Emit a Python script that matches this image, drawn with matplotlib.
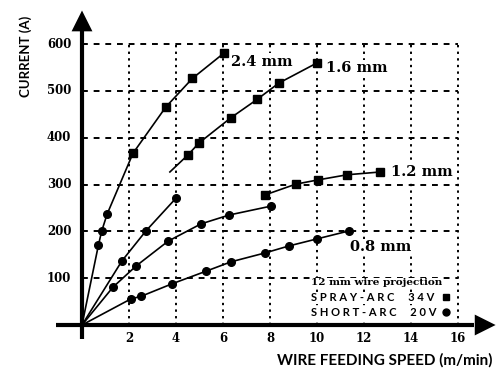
import matplotlib
matplotlib.use("Agg")
import matplotlib.pyplot as plt

plt.rcParams['font.family'] = ['Lato', 'DejaVu Sans']

# ---- data (x: m/min, y: A) ----
x_ticks = [2, 4, 6, 8, 10, 12, 14, 16]
y_ticks = [100, 200, 300, 400, 500, 600]

# 2.4 mm: one curve, short-arc dots then spray-arc squares
d24_short_x = [0.70, 0.84, 1.07]
d24_short_y = [171, 201, 237]
d24_spray_x = [2.17, 3.57, 4.70, 6.04]
d24_spray_y = [367, 466, 527, 581]

# 1.6 mm
d16_short_x = [1.70, 2.72, 4.00]
d16_short_y = [137, 201, 271]
d16_spray_start = (3.74, 327)
d16_spray_x = [4.50, 4.98, 6.34, 7.45, 8.38, 10.0]
d16_spray_y = [363, 389, 443, 482, 517, 560]

# 1.2 mm
d12_short_x = [1.32, 2.30, 3.66, 5.06, 6.26, 8.04]
d12_short_y = [81, 126, 179, 216, 235, 254]
d12_spray_x = [7.79, 9.10, 10.04, 11.28, 12.70]
d12_spray_y = [278, 301, 310, 321, 327]

# 0.8 mm
d08_short_x = [2.09, 2.50, 3.83, 5.28, 6.34, 7.79, 8.81, 10.0, 11.36]
d08_short_y = [56, 61, 88, 115, 135, 154, 169, 184, 201]

labels = ["2.4 mm", "1.6 mm", "1.2 mm", "0.8 mm"]
label_pos = [(6.35, 563), (10.4, 549), (13.15, 327), (11.4, 166)]

fig = plt.figure(figsize=(4.97, 3.70), dpi=100)
ax = fig.add_axes([0, 0, 1, 1])
ax.set_xlim(-82 / 23.5, (497 - 82) / 23.5)
ax.set_ylim(-(370 - 325) / 0.468, 325 / 0.468)
ax.axis("off")

# grid
for y in y_ticks:
    ax.plot([0, 16], [y, y], color="black", lw=1.4, ls=(0, (3, 3)), zorder=1)
for x in x_ticks:
    ax.plot([x, x], [0, 600], color="black", lw=1.4, ls=(0, (1.2, 2.2)), zorder=1)

# axes with arrows
ax.plot([0, 0], [-30, 630], color="black", lw=3, solid_capstyle="butt", zorder=3)
ax.plot([-1.1, 16.7], [0, 0], color="black", lw=3, solid_capstyle="butt", zorder=3)
arrow = dict(arrowstyle="-|>,head_length=1.0,head_width=0.5", mutation_scale=15,
             color="black", lw=0, shrinkA=0, shrinkB=0)
ax.annotate("", xy=(0, 672), xytext=(0, 620), arrowprops=arrow, zorder=4)
ax.annotate("", xy=(17.6, 0), xytext=(16.5, 0), arrowprops=arrow, zorder=4)

for y in y_ticks:
    ax.text(-0.45, y, str(y), ha="right", va="center", fontsize=8.5,
            fontweight="bold", family="DejaVu Serif")
for x in x_ticks:
    ax.text(x, -15, str(x), ha="center", va="top", fontsize=8.5,
            fontweight="bold", family="DejaVu Serif")

ax.text(-2.4, 573, "CURRENT (A)", rotation=90, ha="center", va="center",
        fontsize=9.5, fontweight="bold")
ax.text(17.45, -75, "WIRE FEEDING SPEED (m/min)", ha="right", va="center",
        fontsize=11, fontweight="bold")

lk = dict(color="black", lw=1.2, zorder=5)
mk = dict(color="black", ms=5.5, ls="none", zorder=6)

# 2.4 mm
ax.plot([0] + d24_short_x + d24_spray_x, [0] + d24_short_y + d24_spray_y, **lk)
ax.plot(d24_short_x, d24_short_y, marker="o", **mk)
ax.plot(d24_spray_x, d24_spray_y, marker="s", **mk)
# 1.6 mm
ax.plot([0] + d16_short_x, [0] + d16_short_y, **lk)
ax.plot(d16_short_x, d16_short_y, marker="o", **mk)
ax.plot([d16_spray_start[0]] + d16_spray_x, [d16_spray_start[1]] + d16_spray_y, **lk)
ax.plot(d16_spray_x, d16_spray_y, marker="s", **mk)
# 1.2 mm
ax.plot([0] + d12_short_x, [0] + d12_short_y, **lk)
ax.plot(d12_short_x, d12_short_y, marker="o", **mk)
ax.plot(d12_spray_x, d12_spray_y, **lk)
ax.plot(d12_spray_x, d12_spray_y, marker="s", **mk)
# 0.8 mm
ax.plot([0] + d08_short_x, [0] + d08_short_y, **lk)
ax.plot(d08_short_x, d08_short_y, marker="o", **mk)

for lab, (lx, ly) in zip(labels, label_pos):
    ax.text(lx, ly, lab, ha="left", va="center", fontsize=10.5, fontweight="bold",
            family="DejaVu Serif", zorder=7,
            bbox=dict(facecolor="white", edgecolor="none", pad=1))

# legend block
ax.text(9.75, 90, "12 mm wire projection", ha="left", va="center", fontsize=7.5,
        fontweight="bold", family="DejaVu Serif", zorder=7,
        bbox=dict(facecolor="white", edgecolor="none", pad=0.5))
ax.text(9.75, 58, "S P R A Y - A R C     3 4 V", ha="left", va="center", fontsize=8,
        fontweight="bold", zorder=7,
        bbox=dict(facecolor="white", edgecolor="none", pad=0.5))
ax.text(9.75, 26, "S H O R T - A R C     2 0 V", ha="left", va="center", fontsize=8,
        fontweight="bold", zorder=7,
        bbox=dict(facecolor="white", edgecolor="none", pad=0.5))
ax.plot([15.5], [59], marker="s", color="black", ms=5, zorder=8)
ax.plot([15.5], [28], marker="o", color="black", ms=5, zorder=8)

fig.savefig("out.png", dpi=100)
